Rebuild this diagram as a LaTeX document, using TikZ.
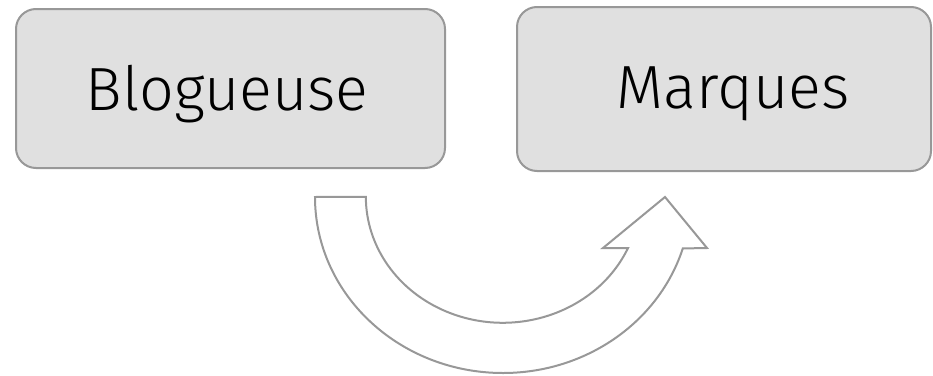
\documentclass[tikz,border=0pt]{standalone}
\usepackage{fontspec}
\setmainfont{Fira Sans Light}
\definecolor{boxfill}{HTML}{E0E0E0}
\definecolor{edge}{HTML}{989898}
\begin{document}
\begin{tikzpicture}[x=1pt,y=-1pt,
  box/.style={draw=edge,fill=boxfill,line width=2pt,rounded corners=20pt,inner sep=0pt},
  lbl/.style={inner sep=0pt,font=\fontsize{61}{61}\selectfont,text height=42pt,text depth=0pt,anchor=center},
  arrowshape/.style={draw=edge,fill=white,line width=2pt,line join=miter}]
\useasboundingbox (0,0) rectangle (933,375);
\node[box,minimum width=429pt,minimum height=159pt] (b1) at (230.5,88.5) {};
\node[box,minimum width=414pt,minimum height=164pt] (b2) at (724,89) {};
\node[lbl] (t1) at (227,89) {Blogueuse};
\node[lbl] (t2) at (733,87.5) {Marques};
\coordinate (tailOut) at (315,197);
\draw[arrowshape] (tailOut) arc[start angle=180,end angle=17,x radius=188,y radius=176]
  -- (707,248) -- (665,197) -- (603,248) -- (628,248)
  arc[start angle=24,end angle=180,x radius=137,y radius=126] -- cycle;
\end{tikzpicture}
\end{document}
